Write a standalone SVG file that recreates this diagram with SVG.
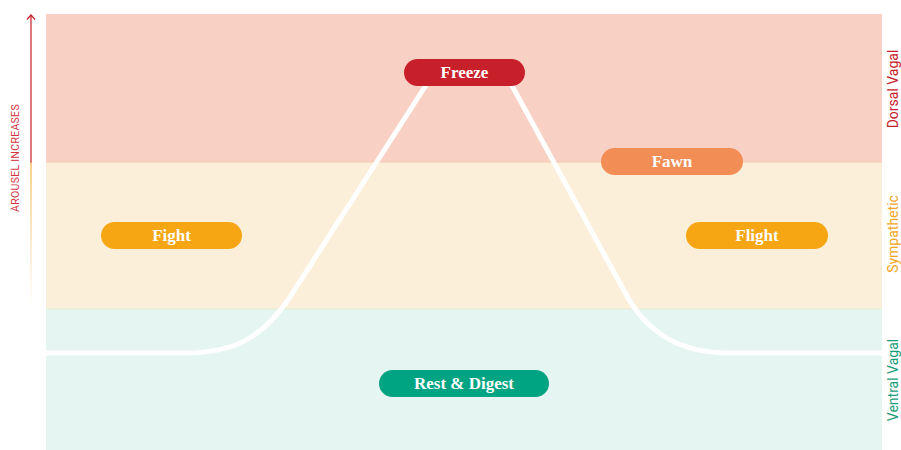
<svg xmlns="http://www.w3.org/2000/svg" width="901" height="450" viewBox="0 0 901 450">
<defs>
<linearGradient id="arrowGrad" x1="0" y1="15" x2="0" y2="306" gradientUnits="userSpaceOnUse">
<stop offset="0" stop-color="#c8202a"/>
<stop offset="0.505" stop-color="#c8202a"/>
<stop offset="0.51" stop-color="#f5b342"/>
<stop offset="1" stop-color="#f5b342" stop-opacity="0"/>
</linearGradient>
<style>
.pill-text{font-family:"Liberation Serif","DejaVu Serif",serif;font-weight:bold;font-size:17px;fill:#ffffff;text-anchor:middle;dominant-baseline:central}
.side{font-family:Roboto,"Liberation Sans",sans-serif;font-size:14px;text-anchor:middle}
</style>
</defs>
<rect width="901" height="450" fill="#ffffff"/>
<g id="bands">
<rect x="46" y="14" width="836" height="148" fill="#f8d1c4"/>
<rect x="46" y="162" width="836" height="147" fill="#fcefd9"/>
<rect x="46" y="309" width="836" height="141" fill="#e5f5f1"/>
<line x1="46" y1="162" x2="882" y2="162" stroke="#f6c9ad" stroke-width="1"/>
<line x1="46" y1="309" x2="882" y2="309" stroke="#e1ecd8" stroke-width="1"/>
</g>
<g id="axis">
<rect x="30.4" y="15" width="1.2" height="291" fill="url(#arrowGrad)"/>
<path d="M27 19.5 L31 15 L35 19.5" fill="none" stroke="#c8202a" stroke-width="1.2"/>
<text x="0" y="0" transform="translate(18.5 158) rotate(-90)" font-family="Roboto,'Liberation Sans',sans-serif" font-size="10.5" letter-spacing="0.3" fill="#d2333f" text-anchor="middle">AROUSEL INCREASES</text>
</g>
<g id="connectors">
<path d="M46 353 H185 C235 353 262 337 288 300 L428 82 M510 82 L628 298 C650 335 682 353 730 353 H882" fill="none" stroke="#ffffff" stroke-width="5"/>
</g>
<g id="freeze"><rect x="404" y="59" width="121" height="27" rx="13.5" fill="#c8202a"/><text class="pill-text" x="464.5" y="72.5">Freeze</text></g>
<g id="fawn"><rect x="601" y="148" width="142" height="27" rx="13.5" fill="#f28e55"/><text class="pill-text" x="672" y="161.5">Fawn</text></g>
<g id="fight"><rect x="101" y="222" width="141" height="27" rx="13.5" fill="#f7a613"/><text class="pill-text" x="171.5" y="235.5">Fight</text></g>
<g id="flight"><rect x="686" y="222" width="142" height="27" rx="13.5" fill="#f7a613"/><text class="pill-text" x="757" y="235.5">Flight</text></g>
<g id="rest"><rect x="379" y="370" width="170" height="27" rx="13.5" fill="#00a382"/><text class="pill-text" x="464" y="383.5">Rest &amp; Digest</text></g>
<g id="labels">
<text class="side" transform="translate(898 89) rotate(-90)" fill="#c8202a">Dorsal Vagal</text>
<text class="side" transform="translate(898 234) rotate(-90)" fill="#f5a623">Sympathetic</text>
<text class="side" transform="translate(898 380) rotate(-90)" fill="#1a9e7a">Ventral Vagal</text>
</g>
</svg>
